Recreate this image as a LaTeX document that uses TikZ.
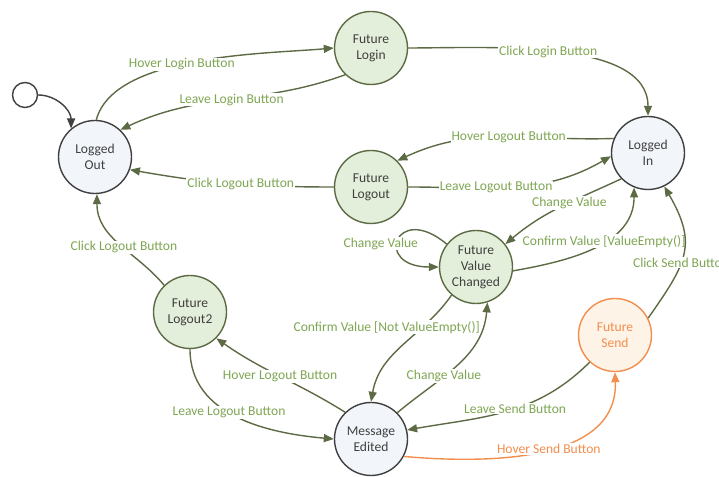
\documentclass[tikz,border=0pt]{standalone}
\usepackage{fontspec}
\setmainfont{Carlito}
\usetikzlibrary{arrows.meta}
\definecolor{edgegreen}{HTML}{5C6B44}
\definecolor{lblgreen}{HTML}{7FA653}
\definecolor{futurefill}{HTML}{E4EFDB}
\definecolor{stategray}{HTML}{404040}
\definecolor{statefill}{HTML}{F2F5FA}
\definecolor{sendorange}{HTML}{F28E4E}
\definecolor{sendfill}{HTML}{FEF3E7}
\begin{document}
\begin{tikzpicture}[x=1bp, y=1bp, font=\fontsize{13.6}{16}\selectfont,
	state/.style={circle, draw=stategray, line width=1.4bp, fill=statefill, minimum size=73bp, inner sep=0pt, align=center, text=stategray},
	future/.style={state, draw=edgegreen, fill=futurefill},
	trans/.style={draw=edgegreen, line width=1.4bp, -{Triangle[length=10bp,width=8bp]}},
	lbl/.style={fill=white, text=lblgreen, inner sep=1bp}]
	\useasboundingbox (0,0) rectangle (719,477);
	% states
	\node[circle, draw=stategray, line width=1.4bp, fill=white, minimum size=25bp, inner sep=0pt] (init) at (25,382) {};
	\node[state] (lout) at (95,320) {Logged\\Out};
	\node[state] (lin) at (648,324) {Logged\\In};
	\node[state] (medit) at (371,38) {Message\\Edited};
	\node[future] (flogin) at (371,429) {Future\\Login};
	\node[future] (flogout) at (371,290) {Future\\Logout};
	\node[future] (fvc) at (476,210) {Future\\Value\\Changed};
	\node[future] (flogout2) at (190,165) {Future\\Logout2};
	\node[state, draw=sendorange, fill=sendfill, text=sendorange] (fsend) at (615,142) {Future\\Send};
	% transitions
	\draw[trans, draw=stategray] (init.east) to[out=0,in=90] (lout.130);
	\draw[trans] (lout.88) to[out=75,in=185,looseness=0.7] node[lbl,pos=0.45] {Hover Login Button} (flogin.west);
	\draw[trans] (flogin.226) to[out=200,in=25] node[lbl] {Leave Login Button} (lout.47);
	\draw[trans] (flogin.east) to[out=0,in=90,looseness=0.8] node[lbl,pos=0.47] {Click Login Button} (lin.north);
	\draw[trans] (lin.157) to[out=182,in=25] node[lbl,pos=0.47] {Hover Logout Button} (flogout.45);
	\draw[trans] (flogout.east) to[out=0,in=210] node[lbl,pos=0.41] {Leave Logout Button} (lin.185);
	\draw[trans] (flogout.west) to[out=180,in=-10] node[lbl,pos=0.45] {Click Logout Button} (lout.-20);
	\draw[trans] (lin.224) to[out=205,in=40] node[lbl,pos=0.42] {Change Value} (fvc.38);
	\draw[trans] (fvc.-6) to[out=10,in=-90] node[lbl,pos=0.57] {Confirm Value [ValueEmpty()]} (lin.248);
	\draw[trans] (fvc.142) to[out=140,in=180,looseness=7] node[lbl,pos=0.5,xshift=-18bp,yshift=-4bp] {Change Value} (fvc.west);
	\draw[trans] (fvc.229) to[out=235,in=80] node[lbl,pos=0.3,xshift=-36bp] {Confirm Value [Not ValueEmpty()]} (medit.north);
	\draw[trans] (medit.45) to[out=40,in=265] node[lbl,pos=0.38] {Change Value} (fvc.288);
	\draw[trans] (fsend.27) to[out=55,in=-60,looseness=1.3] node[lbl,pos=0.42] {Click Send Button} (lin.296);
	\draw[trans] (medit.134) to[out=148,in=-35] node[lbl] {Hover Logout Button} (flogout2.-45);
	\draw[trans] (flogout2.-90) to[out=-90,in=175] node[lbl,pos=0.45] {Leave Logout Button} (medit.west);
	\draw[trans] (flogout2.134) to[out=130,in=-90] node[lbl,pos=0.45] {Click Logout Button} (lout.-87);
	\draw[trans] (fsend.227) to[out=225,in=10] node[lbl,pos=0.45] {Leave Send Button} (medit.14);
	\draw[trans, draw=sendorange] (medit.-28) to[out=-5,in=-88] node[lbl, text=sendorange, pos=0.52] {Hover Send Button} (fsend.-90);
\end{tikzpicture}
\end{document}
